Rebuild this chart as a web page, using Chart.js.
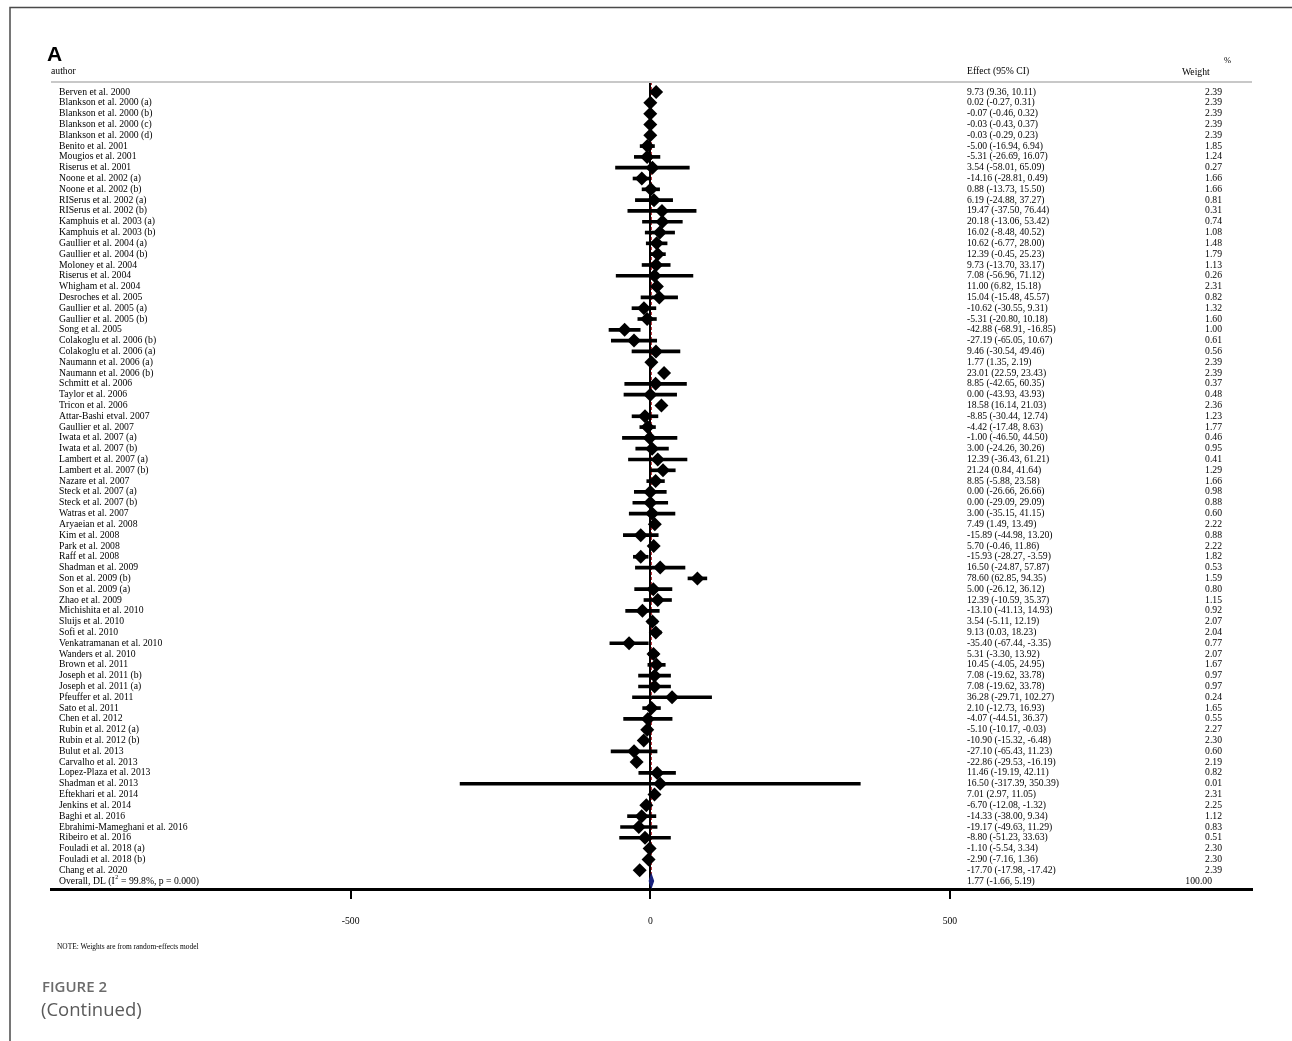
<!DOCTYPE html>
<html><head><meta charset="utf-8">
<script src="https://cdn.jsdelivr.net/npm/chart.js@4/dist/chart.umd.min.js"></script>
<style>
html,body{margin:0;padding:0;background:#fff;}
#wrap{position:relative;width:1292px;height:1041px;}
canvas{display:block;}
</style></head><body>
<div id="wrap"><canvas id="c" width="1292" height="1041"></canvas></div>
<script>
const authors = [
"Berven et al. 2000","Blankson et al. 2000 (a)","Blankson et al. 2000 (b)","Blankson et al. 2000 (c)","Blankson et al. 2000 (d)",
"Benito et al. 2001","Mougios et al. 2001","Riserus et al. 2001","Noone et al. 2002 (a)","Noone et al. 2002 (b)",
"RISerus et al. 2002 (a)","RISerus et al. 2002 (b)","Kamphuis et al. 2003 (a)","Kamphuis et al. 2003 (b)","Gaullier et al. 2004 (a)",
"Gaullier et al. 2004 (b)","Moloney et al. 2004","Riserus et al. 2004","Whigham et al. 2004","Desroches et al. 2005",
"Gaullier et al. 2005 (a)","Gaullier et al. 2005 (b)","Song et al. 2005","Colakoglu et al. 2006 (b)","Colakoglu et al. 2006 (a)",
"Naumann et al. 2006 (a)","Naumann et al. 2006 (b)","Schmitt et al. 2006","Taylor et al. 2006","Tricon et al. 2006",
"Attar-Bashi etval. 2007","Gaullier et al. 2007","Iwata et al. 2007 (a)","Iwata et al. 2007 (b)","Lambert et al. 2007 (a)",
"Lambert et al. 2007 (b)","Nazare et al. 2007","Steck et al. 2007 (a)","Steck et al. 2007 (b)","Watras et al. 2007",
"Aryaeian et al. 2008","Kim et al. 2008","Park et al. 2008","Raff et al. 2008","Shadman et al. 2009",
"Son et al. 2009 (b)","Son et al. 2009 (a)","Zhao et al. 2009","Michishita et al. 2010","Sluijs et al. 2010",
"Sofi et al. 2010","Venkatramanan et al. 2010","Wanders et al. 2010","Brown et al. 2011","Joseph et al. 2011 (b)",
"Joseph et al. 2011 (a)","Pfeuffer et al. 2011","Sato et al. 2011","Chen et al. 2012","Rubin et al. 2012 (a)",
"Rubin et al. 2012 (b)","Bulut et al. 2013","Carvalho et al. 2013","Lopez-Plaza et al. 2013","Shadman et al. 2013",
"Eftekhari et al. 2014","Jenkins et al. 2014","Baghi et al. 2016","Ebrahimi-Mameghani et al. 2016","Ribeiro et al. 2016",
"Fouladi et al. 2018 (a)","Fouladi et al. 2018 (b)","Chang et al. 2020"
];
const effects = [
9.73,0.02,-0.07,-0.03,-0.03,
-5.00,-5.31,3.54,-14.16,0.88,
6.19,19.47,20.18,16.02,10.62,
12.39,9.73,7.08,11.00,15.04,
-10.62,-5.31,-42.88,-27.19,9.46,
1.77,23.01,8.85,0.00,18.58,
-8.85,-4.42,-1.00,3.00,12.39,
21.24,8.85,0.00,0.00,3.00,
7.49,-15.89,5.70,-15.93,16.50,
78.60,5.00,12.39,-13.10,3.54,
9.13,-35.40,5.31,10.45,7.08,
7.08,36.28,2.10,-4.07,-5.10,
-10.90,-27.10,-22.86,11.46,16.50,
7.01,-6.70,-14.33,-19.17,-8.80,
-1.10,-2.90,-17.70
];
const ciLow = [
9.36,-0.27,-0.46,-0.43,-0.29,
-16.94,-26.69,-58.01,-28.81,-13.73,
-24.88,-37.50,-13.06,-8.48,-6.77,
-0.45,-13.70,-56.96,6.82,-15.48,
-30.55,-20.80,-68.91,-65.05,-30.54,
1.35,22.59,-42.65,-43.93,16.14,
-30.44,-17.48,-46.50,-24.26,-36.43,
0.84,-5.88,-26.66,-29.09,-35.15,
1.49,-44.98,-0.46,-28.27,-24.87,
62.85,-26.12,-10.59,-41.13,-5.11,
0.03,-67.44,-3.30,-4.05,-19.62,
-19.62,-29.71,-12.73,-44.51,-10.17,
-15.32,-65.43,-29.53,-19.19,-317.39,
2.97,-12.08,-38.00,-49.63,-51.23,
-5.54,-7.16,-17.98
];
const ciHigh = [
10.11,0.31,0.32,0.37,0.23,
6.94,16.07,65.09,0.49,15.50,
37.27,76.44,53.42,40.52,28.00,
25.23,33.17,71.12,15.18,45.57,
9.31,10.18,-16.85,10.67,49.46,
2.19,23.43,60.35,43.93,21.03,
12.74,8.63,44.50,30.26,61.21,
41.64,23.58,26.66,29.09,41.15,
13.49,13.20,11.86,-3.59,57.87,
94.35,36.12,35.37,14.93,12.19,
18.23,-3.35,13.92,24.95,33.78,
33.78,102.27,16.93,36.37,-0.03,
-6.48,11.23,-16.19,42.11,350.39,
11.05,-1.32,9.34,11.29,33.63,
3.34,1.36,-17.42
];
const weights = [
2.39,2.39,2.39,2.39,2.39,
1.85,1.24,0.27,1.66,1.66,
0.81,0.31,0.74,1.08,1.48,
1.79,1.13,0.26,2.31,0.82,
1.32,1.60,1.00,0.61,0.56,
2.39,2.39,0.37,0.48,2.36,
1.23,1.77,0.46,0.95,0.41,
1.29,1.66,0.98,0.88,0.60,
2.22,0.88,2.22,1.82,0.53,
1.59,0.80,1.15,0.92,2.07,
2.04,0.77,2.07,1.67,0.97,
0.97,0.24,1.65,0.55,2.27,
2.30,0.60,2.19,0.82,0.01,
2.31,2.25,1.12,0.83,0.51,
2.30,2.30,2.39
];
const overallEffect = 1.77;
const overallLow = -1.66;
const overallHigh = 5.19;
const overallWeight = 100.00;
const xTicks = [-500, 0, 500];

const nRows = authors.length;        // 73 studies
const overallRow = nRows;            // row index of the pooled estimate
const SERIF = '"Liberation Serif", "Times New Roman", serif';

function fmtCI(e, l, h) { return e.toFixed(2) + ' (' + l.toFixed(2) + ', ' + h.toFixed(2) + ')'; }

const forestText = {
  id: 'forestText',
  afterDraw(chart) {
    const ctx = chart.ctx;
    const ys = chart.scales.y;
    const area = chart.chartArea;
    ctx.save();
    // frame
    ctx.strokeStyle = '#4a4a4a';
    ctx.lineWidth = 1.5;
    ctx.beginPath();
    ctx.moveTo(10, 1041); ctx.lineTo(10, 7.5); ctx.lineTo(1292, 7.5);
    ctx.stroke();
    // header rule
    ctx.strokeStyle = '#c8c8c8';
    ctx.lineWidth = 2;
    ctx.beginPath();
    ctx.moveTo(area.left, area.top); ctx.lineTo(area.right, area.top);
    ctx.stroke();
    // panel letter
    ctx.fillStyle = '#000';
    ctx.font = 'bold 21px "Liberation Sans", Arial, sans-serif';
    ctx.textBaseline = 'alphabetic';
    ctx.textAlign = 'left';
    ctx.fillText('A', 47, 61);
    // headers
    ctx.font = '9.7px ' + SERIF;
    ctx.textBaseline = 'middle';
    ctx.fillText('author', 51, 71);
    ctx.fillText('Effect (95% CI)', 967, 71);
    ctx.fillText('Weight', 1182, 72);
    ctx.font = '8.5px ' + SERIF;
    ctx.fillText('%', 1224, 61);
    // rows
    ctx.font = '9.7px ' + SERIF;
    for (let i = 0; i < nRows; i++) {
      const y = ys.getPixelForValue(i);
      ctx.textAlign = 'left';
      ctx.fillText(authors[i], 59, y);
      ctx.fillText(fmtCI(effects[i], ciLow[i], ciHigh[i]), 967, y);
      ctx.textAlign = 'right';
      ctx.fillText(weights[i].toFixed(2), 1222, y);
    }
    // overall row
    const yo = ys.getPixelForValue(overallRow);
    ctx.textAlign = 'left';
    let x = 59;
    const p1 = 'Overall, DL (I';
    ctx.fillText(p1, x, yo);
    x += ctx.measureText(p1).width;
    ctx.font = '6px ' + SERIF;
    ctx.fillText('2', x + 0.5, yo - 4);
    x += ctx.measureText('2').width + 1;
    ctx.font = '9.7px ' + SERIF;
    ctx.fillText(' = 99.8%, p = 0.000)', x, yo);
    ctx.fillText(fmtCI(overallEffect, overallLow, overallHigh), 967, yo);
    ctx.textAlign = 'right';
    ctx.fillText(overallWeight.toFixed(2), 1212, yo);
    // note
    ctx.textAlign = 'left';
    ctx.font = '7.4px ' + SERIF;
    ctx.fillText('NOTE: Weights are from random-effects model', 57, 947);
    // caption
    ctx.fillStyle = '#6b6b6b';
    ctx.font = '600 15px "Open Sans", "Noto Sans", sans-serif';
    ctx.fillText('FIGURE 2', 42, 988);
    ctx.fillStyle = '#5a5a5a';
    ctx.font = '18.5px "Open Sans", "Noto Sans", sans-serif';
    ctx.fillText('(Continued)', 41, 1011);
    ctx.restore();
  }
};

const ciData = authors.map((a, i) => ({ x: [ciLow[i], ciHigh[i]], y: i }));
const ptData = authors.map((a, i) => ({ x: effects[i], y: i }));
const overallShape = [
  { x: overallLow, y: overallRow },
  { x: overallEffect, y: overallRow - 0.55 },
  { x: overallHigh, y: overallRow },
  { x: overallEffect, y: overallRow + 0.55 },
  { x: overallLow, y: overallRow }
];
const overallLine = [
  { x: overallEffect, y: -0.93 },
  { x: overallEffect, y: overallRow - 0.55 }
];

new Chart(document.getElementById('c'), {
  type: 'scatter',
  data: {
    datasets: [
      {
        type: 'line', data: overallLine, borderColor: '#b0171f', borderWidth: 1,
        borderDash: [3, 2], pointRadius: 0, fill: false, order: 5
      },
      {
        type: 'bar', indexAxis: 'y', data: ciData, backgroundColor: '#000',
        barThickness: 3, borderWidth: 0, order: 4
      },
      {
        type: 'scatter', data: ptData, pointStyle: 'rectRot', pointRadius: 7,
        backgroundColor: '#000', borderColor: '#000', borderWidth: 0, order: 3
      },
      {
        type: 'line', data: overallShape, borderColor: '#1a237e', backgroundColor: '#1a237e',
        borderWidth: 1.5, pointRadius: 0, fill: 'shape', tension: 0, order: 2
      }
    ]
  },
  options: {
    responsive: false,
    animation: false,
    devicePixelRatio: 1,
    layout: { padding: { left: 51, right: 40, top: 82, bottom: 112 } },
    plugins: { legend: { display: false }, tooltip: { enabled: false }, title: { display: false } },
    scales: {
      x: {
        type: 'linear', position: 'bottom', min: -1000, max: 1004, offset: false, beginAtZero: false,
        afterBuildTicks: (s) => { s.ticks = xTicks.map(v => ({ value: v })); },
        afterFit: (s) => { s.height = 40; },
        grid: {
          offset: false, drawOnChartArea: true, drawTicks: true, tickLength: 10, tickWidth: 2,
          tickColor: '#000',
          color: (c) => (c.tick && c.tick.value === 0 ? '#000' : 'rgba(0,0,0,0)'),
          lineWidth: 2
        },
        border: { display: true, color: '#000', width: 3 },
        ticks: {
          color: '#000', padding: 17, maxRotation: 0, autoSkip: false,
          font: { family: '"Liberation Serif", "Times New Roman", serif', size: 9.7 },
          callback: (v) => String(v)
        }
      },
      y: {
        type: 'linear', display: false, reverse: true, min: -0.93, max: 73.74, offset: false,
        grid: { display: false, offset: false }
      }
    }
  },
  plugins: [forestText]
});
</script>
</body></html>
